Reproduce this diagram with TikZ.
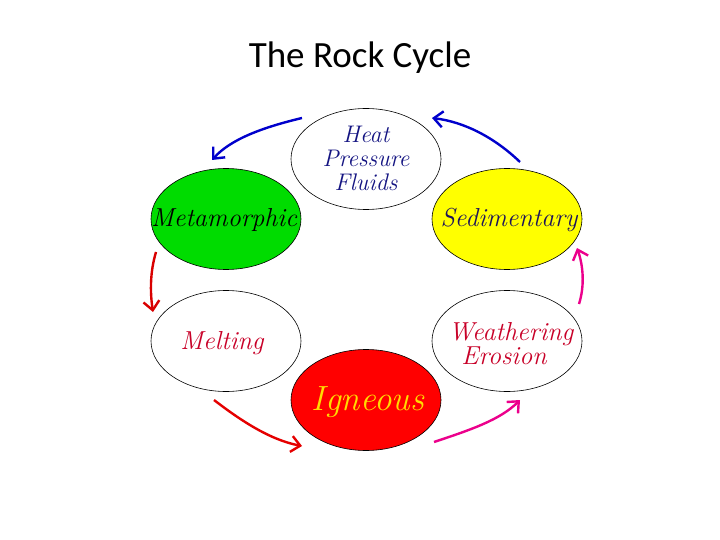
\documentclass[tikz,border=0pt]{standalone}
\usepackage{fontspec}
\setmainfont{Latin Modern Roman}
\newfontfamily\titlefont{Carlito}
\usetikzlibrary{shapes.geometric,arrows.meta}
\begin{document}
\begin{tikzpicture}[x=1pt,y=-1pt,
  ell/.style={draw=black,line width=0.6pt,ellipse,minimum width=150pt,minimum height=101pt,inner sep=0pt},
  lab/.style={align=center,inner sep=0pt,font=\fontsize{26}{27}\selectfont\itshape},
  arr/.style={line width=2.4pt,-{Straight Barb[length=9pt,width=16pt,line width=2.4pt]}}]
\useasboundingbox[fill=white] (0,0) rectangle (720,540);
\node[font=\titlefont\fontsize{37}{40}\selectfont] (title) at (360,58) {The Rock Cycle};
\node[ell,fill=white] (heat) at (366,159) {};
\node[ell,fill={rgb,255:red,0;green,220;blue,0}] (meta) at (226,219) {};
\node[ell,fill={rgb,255:red,255;green,255;blue,0}] (sed) at (507,219) {};
\node[ell,fill=white] (melt) at (226,341) {};
\node[ell,fill=white] (weath) at (507,341) {};
\node[ell,fill={rgb,255:red,255;green,0;blue,0}] (ign) at (366,400) {};
\node[lab,text={rgb,255:red,20;green,20;blue,130},font=\fontsize{24}{24}\selectfont\itshape] (heatL) at (366,158) {Heat\\Pressure\\Fluids};
\node[lab,text=black] (metaL) at (224,220) {Metamorphic};
\node[lab,text={rgb,255:red,30;green,20;blue,90}] (sedL) at (509,220) {Sedimentary};
\node[lab,text={rgb,255:red,200;green,0;blue,40}] (meltL) at (222,343) {Melting};
\node[lab,text={rgb,255:red,200;green,0;blue,40},font=\fontsize{26}{24}\selectfont\itshape] (weathL) at (507,344) {\hspace*{8pt}Weathering\\\hspace*{-6pt}Erosion};
\node[lab,text={rgb,255:red,255;green,220;blue,0},font=\fontsize{35}{36}\selectfont\itshape] (ignL) at (368,402) {Igneous};
\coordinate (b1s) at (302,118); \coordinate (b1e) at (212,160);
\coordinate (b2s) at (520,162); \coordinate (b2e) at (432,118);
\coordinate (r1s) at (156,252); \coordinate (r1e) at (153,312);
\coordinate (r2s) at (214,400); \coordinate (r2e) at (302,446);
\coordinate (m1s) at (434,442); \coordinate (m1e) at (520,400);
\coordinate (m2s) at (579,304); \coordinate (m2e) at (577,248);
\draw[arr,blue!80!black] (b1s) .. controls (260,128) and (230,140) .. (b1e);
\draw[arr,blue!80!black] (b2s) .. controls (495,138) and (465,122) .. (b2e);
\draw[arr,red!85!black] (r1s) .. controls (150,272) and (150,292) .. (r1e);
\draw[arr,red!90!black] (r2s) .. controls (240,420) and (270,440) .. (r2e);
\draw[arr,magenta] (m1s) .. controls (470,430) and (500,420) .. (m1e);
\draw[arr,magenta] (m2s) .. controls (585,285) and (583,265) .. (m2e);
\end{tikzpicture}
\end{document}
